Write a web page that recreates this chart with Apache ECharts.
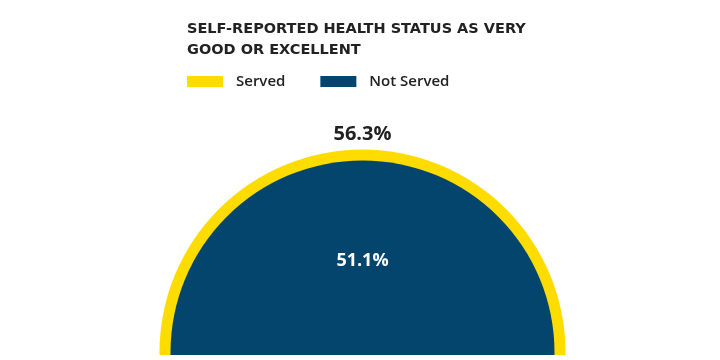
<!DOCTYPE html>
<html>
<head>
<meta charset="utf-8">
<script src="https://cdn.jsdelivr.net/npm/echarts@6/dist/echarts.min.js"></script>
<style>html,body{margin:0;padding:0;background:#fff}#c{width:720px;height:360px}</style>
</head>
<body>
<div id="c"></div>
<script>
var titleText = "SELF-REPORTED HEALTH STATUS AS VERY\nGOOD OR EXCELLENT";
var categories = ["Served", "Not Served"];
var values = [56.3, 51.1];
var colors = ["#FFDC00", "#03456D"];

var chart = echarts.init(document.getElementById('c'), null, {renderer: 'canvas'});
var center = [362.5, 352.5];
var radii = [203, 192];
var labelOffsets = [[0, -218], [0, -92]];
var labelColors = ["#222222", "#ffffff"];
var labelSizes = [20, 18];

var series = categories.map(function (name, i) {
  return {
    type: 'pie',
    center: center,
    radius: [0, radii[i]],
    silent: true,
    z: 2 + i,
    emphasis: {disabled: true},
    label: {
      show: true,
      position: 'center',
      formatter: '{c}%',
      offset: labelOffsets[i],
      fontFamily: 'Open Sans',
      fontWeight: 'bold',
      fontSize: labelSizes[i],
      color: labelColors[i]
    },
    labelLine: {show: false},
    itemStyle: {color: colors[i], borderWidth: 0},
    data: [{name: name, value: values[i]}]
  };
});

chart.setOption({
  animation: false,
  backgroundColor: '#ffffff',
  title: {
    text: titleText,
    left: 187,
    top: 19,
    padding: 0,
    textStyle: {
      fontFamily: 'DejaVu Sans',
      fontWeight: 'bold',
      fontSize: 14.5,
      lineHeight: 21,
      color: '#222222'
    }
  },
  legend: {
    left: 187,
    top: 74,
    padding: 0,
    icon: 'rect',
    itemWidth: 36,
    itemHeight: 11,
    itemGap: 35,
    selectedMode: false,
    data: categories,
    textStyle: {
      fontFamily: 'Open Sans',
      fontWeight: 600,
      fontSize: 15,
      color: '#222222',
      padding: [0, 0, 0, 8]
    }
  },
  graphic: [{
    type: 'rect',
    z: 100,
    shape: {x: 0, y: 355, width: 720, height: 5},
    style: {fill: '#ffffff'}
  }],
  series: series
});
</script>
</body>
</html>
